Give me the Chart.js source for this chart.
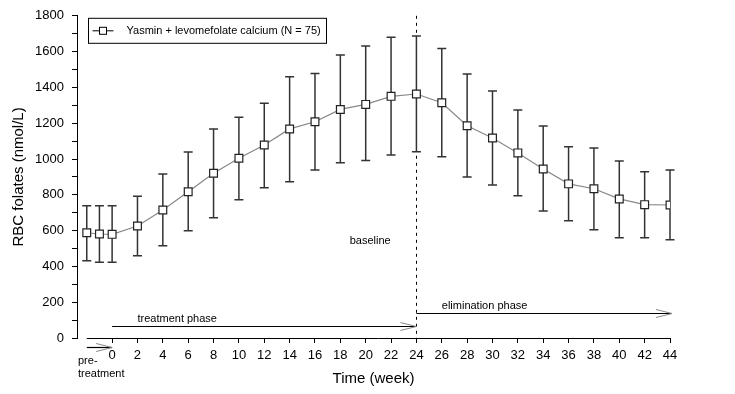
<!DOCTYPE html>
<html>
<head>
<meta charset="utf-8">
<script src="https://cdn.jsdelivr.net/npm/chart.js@4.4.1/dist/chart.umd.min.js"></script>
<style>
  body { margin: 0; background: #fff; }
  #wrap { width: 735px; height: 394px; }
</style>
</head>
<body>
<div id="wrap"><canvas id="folateChart" width="735" height="394"></canvas></div>
<script>
// weeks: -2 and -1 are the pre-treatment visits
const weeks = [-2, -1, 0, 2, 4, 6, 8, 10, 12, 14, 16, 18, 20, 22, 24, 26, 28, 30, 32, 34, 36, 38, 40, 42, 44];
const meanFolate = [588, 581, 579, 626, 715, 817, 920, 1004, 1078, 1168, 1208, 1277, 1305, 1350, 1363, 1314, 1186, 1117, 1034, 944, 861, 834, 777, 745, 743];
const upperFolate = [739, 739, 739, 792, 916, 1039, 1168, 1233, 1311, 1460, 1478, 1581, 1631, 1680, 1687, 1618, 1475, 1380, 1274, 1184, 1068, 1061, 989, 929, 939];
const lowerFolate = [432, 423, 423, 460, 516, 599, 672, 773, 840, 873, 939, 979, 991, 1022, 1041, 1013, 900, 855, 794, 709, 655, 605, 560, 560, 549];
const xTickValues = [0, 2, 4, 6, 8, 10, 12, 14, 16, 18, 20, 22, 24, 26, 28, 30, 32, 34, 36, 38, 40, 42, 44];
const phaseNames = ['treatment phase', 'elimination phase'];
const phaseStart = [0, 24];
const phaseEnd = [24, 44];
const baselineWeek = 24;
const seriesLabel = 'Yasmin + levomefolate calcium (N = 75)';

Chart.defaults.font.family = "'Liberation Sans', Arial, sans-serif";
Chart.defaults.color = '#000';

function arrow(ctx, x1, x2, yy) {
  ctx.strokeStyle = '#000';
  ctx.lineWidth = 1.2;
  ctx.beginPath();
  ctx.moveTo(x1, yy);
  ctx.lineTo(x2, yy);
  ctx.stroke();
  ctx.strokeStyle = '#888';
  ctx.lineWidth = 1;
  ctx.beginPath();
  ctx.moveTo(x2 - 16, yy - 4);
  ctx.lineTo(x2, yy);
  ctx.lineTo(x2 - 16, yy + 4);
  ctx.stroke();
}

const extras = {
  id: 'extras',
  beforeDatasetsDraw(chart) {
    const {ctx, chartArea, scales: {x, y}} = chart;
    ctx.save();
    // x axis line only under the data range
    ctx.strokeStyle = '#000';
    ctx.lineWidth = 1;
    ctx.beginPath();
    ctx.moveTo(x.getPixelForValue(weeks[0]), chartArea.bottom + 0.5);
    ctx.lineTo(x.getPixelForValue(44), chartArea.bottom + 0.5);
    ctx.stroke();

    // dotted baseline marker
    const bx = Math.round(x.getPixelForValue(baselineWeek)) + 0.5;
    ctx.setLineDash([3, 4]);
    ctx.beginPath();
    ctx.moveTo(bx, chartArea.top);
    ctx.lineTo(bx, chartArea.bottom);
    ctx.stroke();
    ctx.setLineDash([]);

    // error bars
    ctx.strokeStyle = '#333';
    ctx.lineWidth = 1.5;
    weeks.forEach((w, i) => {
      const px = x.getPixelForValue(w);
      const top = y.getPixelForValue(upperFolate[i]);
      const bot = y.getPixelForValue(lowerFolate[i]);
      ctx.beginPath();
      ctx.moveTo(px, top); ctx.lineTo(px, bot);
      ctx.moveTo(px - 4.5, top); ctx.lineTo(px + 4.5, top);
      ctx.moveTo(px - 4.5, bot); ctx.lineTo(px + 4.5, bot);
      ctx.stroke();
    });
    ctx.restore();
  },
  afterDraw(chart) {
    const {ctx, chartArea, scales: {x, y}} = chart;
    ctx.save();
    ctx.font = "11px 'Liberation Sans', Arial, sans-serif";
    ctx.fillStyle = '#000';

    // phase arrows
    const levels = [67, 141];
    phaseNames.forEach((name, i) => {
      const yy = Math.round(y.getPixelForValue(levels[i])) + 0.5;
      const x1 = x.getPixelForValue(phaseStart[i]);
      const x2 = x.getPixelForValue(phaseEnd[i]) + (i === 1 ? 2 : 0);
      arrow(ctx, x1, x2, yy);
      ctx.textAlign = 'left';
      ctx.textBaseline = 'alphabetic';
      ctx.fillText(name, x.getPixelForValue(phaseStart[i] + 2), yy - 5);
    });

    // pre-treatment arrow below the axis
    const py = chartArea.bottom + 9.5;
    arrow(ctx, x.getPixelForValue(weeks[0]), x.getPixelForValue(0), py);
    ctx.textAlign = 'left';
    ctx.textBaseline = 'middle';
    ctx.fillText('pre-', chartArea.left + 1, chartArea.bottom + 23);
    ctx.fillText('treatment', chartArea.left + 1, chartArea.bottom + 36);

    // baseline label
    ctx.textAlign = 'center';
    ctx.fillText('baseline', x.getPixelForValue(20.35), y.getPixelForValue(540));

    // legend box
    const lx = chartArea.left + 11.5, ly = chartArea.top + 2.5;
    ctx.strokeStyle = '#000';
    ctx.lineWidth = 1;
    ctx.strokeRect(lx, ly, 238, 25);
    const cy = ly + 12.5;
    ctx.beginPath();
    ctx.moveTo(lx + 4, cy);
    ctx.lineTo(lx + 25, cy);
    ctx.stroke();
    ctx.fillStyle = '#fff';
    ctx.fillRect(lx + 11, cy - 3.5, 7, 7);
    ctx.strokeRect(lx + 11, cy - 3.5, 7, 7);
    ctx.fillStyle = '#000';
    ctx.textAlign = 'left';
    ctx.fillText(seriesLabel, lx + 38, cy);
    ctx.restore();
  }
};

new Chart(document.getElementById('folateChart'), {
  type: 'line',
  data: {
    datasets: [{
      label: seriesLabel,
      data: weeks.map((w, i) => ({x: w, y: meanFolate[i]})),
      borderColor: '#888',
      borderWidth: 1.2,
      pointStyle: 'rect',
      pointRadius: 5.5,
      pointBackgroundColor: '#fff',
      pointBorderColor: '#222',
      pointBorderWidth: 1.2,
      tension: 0
    }]
  },
  options: {
    responsive: false,
    animation: false,
    layout: { padding: { top: 15, right: 65, left: 0, bottom: 0 } },
    plugins: {
      legend: { display: false },
      tooltip: { enabled: false }
    },
    scales: {
      x: {
        type: 'linear',
        min: -2.77,
        max: 44,
        afterBuildTicks: (axis) => { axis.ticks = xTickValues.map(v => ({value: v})); },
        afterFit: (scale) => { scale.height = 56; },
        border: { display: false },
        grid: { drawOnChartArea: false, drawTicks: true, tickLength: 5, color: '#000' },
        ticks: { autoSkip: false, maxRotation: 0, padding: 5, font: { size: 13 } },
        title: { display: true, text: 'Time (week)', font: { size: 15 }, padding: { top: 0, bottom: 6 } }
      },
      y: {
        min: 0,
        max: 1800,
        afterFit: (scale) => { scale.width = 77; },
        border: { display: true, color: '#000', width: 1 },
        grid: { drawOnChartArea: false, drawTicks: true, tickLength: 5, color: '#000' },
        ticks: {
          stepSize: 100,
          autoSkip: false,
          padding: 8,
          font: { size: 13 },
          callback: (v) => (v % 200 === 0 ? v : '')
        },
        title: { display: true, text: 'RBC folates (nmol/L)', font: { size: 15 }, padding: { top: 10, bottom: 0 } }
      }
    }
  },
  plugins: [extras]
});
</script>
</body>
</html>
